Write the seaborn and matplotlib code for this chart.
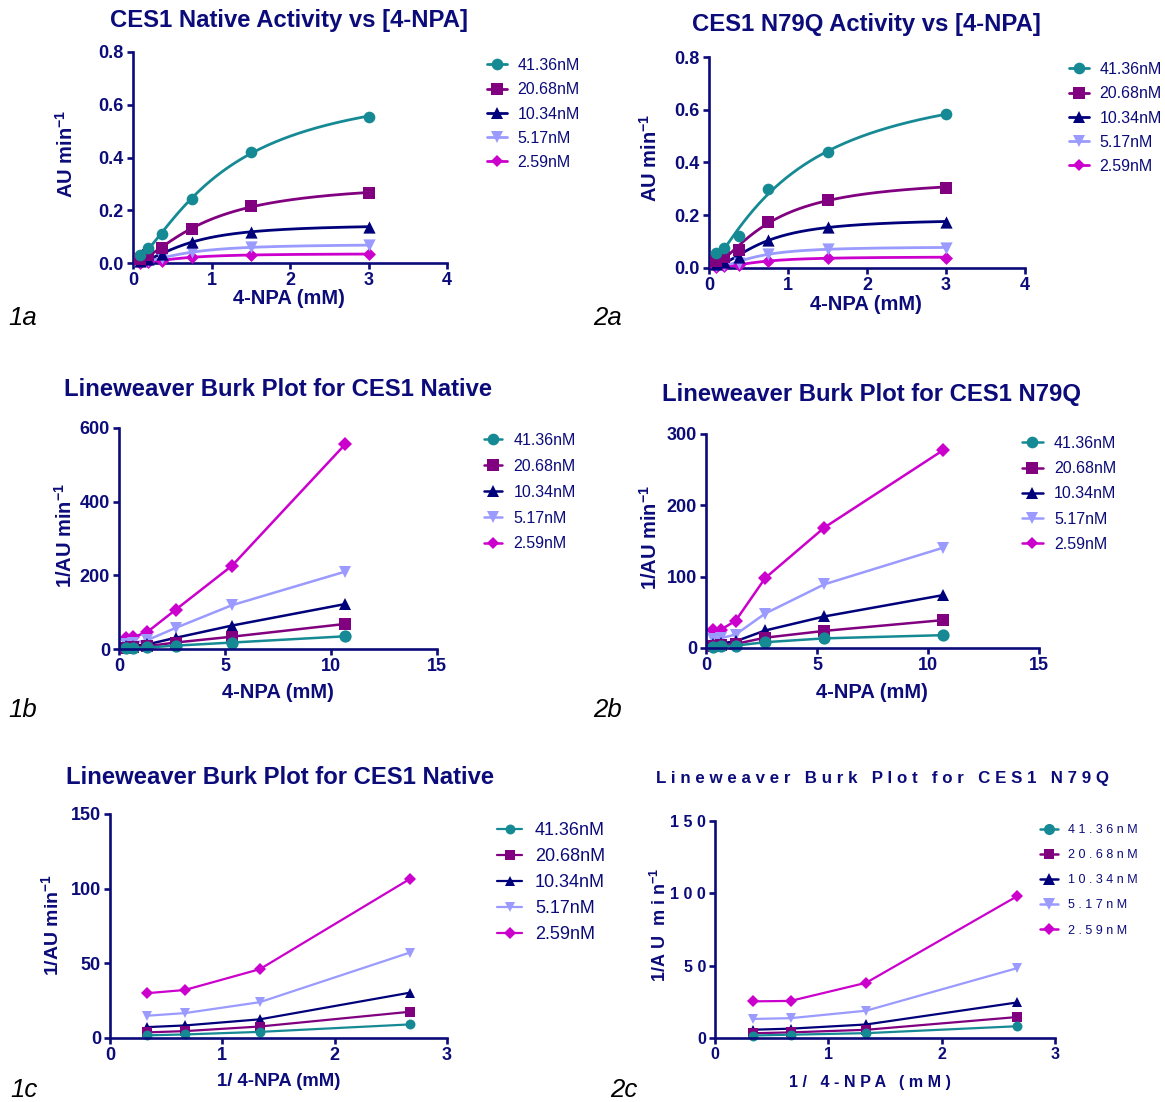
import numpy as np
import matplotlib
matplotlib.use("Agg")
import matplotlib.pyplot as plt
import seaborn as sns
from matplotlib.lines import Line2D

# ---------------------------------------------------------------- data
substrate_mM = [0.09375, 0.1875, 0.375, 0.75, 1.5, 3.0]
enzyme_nM = ["41.36nM", "20.68nM", "10.34nM", "5.17nM", "2.59nM"]

# initial rates (AU/min) of CES1 native, one list per enzyme concentration
native_41 = [0.0290, 0.0570, 0.1100, 0.2440, 0.4200, 0.5550]
native_20 = [0.0147, 0.0299, 0.0570, 0.1300, 0.2170, 0.2650]
native_10 = [0.0082, 0.0157, 0.0330, 0.0800, 0.1190, 0.1370]
native_5 = [0.00476, 0.0084, 0.0175, 0.0417, 0.0600, 0.0670]
native_2 = [0.0018, 0.00442, 0.0094, 0.0217, 0.0311, 0.0333]

# initial rates (AU/min) of CES1 N79Q
n79q_41 = [0.0556, 0.0740, 0.1230, 0.2980, 0.4400, 0.5820]
n79q_20 = [0.0256, 0.0417, 0.0690, 0.1760, 0.2580, 0.3050]
n79q_10 = [0.0135, 0.0226, 0.0407, 0.1070, 0.1550, 0.1750]
n79q_5 = [0.00712, 0.0112, 0.0207, 0.0530, 0.0730, 0.0760]
n79q_2 = [0.00361, 0.00592, 0.0102, 0.0262, 0.0390, 0.0395]

native_rates = dict(zip(enzyme_nM, [native_41, native_20, native_10, native_5, native_2]))
n79q_rates = dict(zip(enzyme_nM, [n79q_41, n79q_20, n79q_10, n79q_5, n79q_2]))

series_colors = ["#168a94", "#800080", "#00007a", "#9a9aff", "#cc00cc"]
series_markers = ["o", "s", "^", "v", "D"]
marker_sizes = [8.4, 8.0, 8.8, 8.8, 6.6]

NAVY = "#0b0b7a"
W, H = 1165, 1102

sns.set_theme(style="ticks")
plt.rcParams["font.family"] = ["Liberation Sans", "DejaVu Sans"]
plt.rcParams["mathtext.fontset"] = "custom"
plt.rcParams["mathtext.rm"] = "Liberation Sans"
plt.rcParams["mathtext.bf"] = "Liberation Sans:bold"

fig = plt.figure(figsize=(W / 100, H / 100), dpi=100)


def px_axes(x0, x1, ytop, ybot):
    return fig.add_axes([x0 / W, 1 - ybot / H, (x1 - x0) / W, (ybot - ytop) / H])


def ftext(x, y, s, **kw):
    fig.text(x / W, 1 - y / H, s, **kw)


def spaced(s):
    return " ".join(s)


def frame(ax, xlim, xticks, xlabels, ylim, yticks, ylabels, font):
    ax.set_xlim(xlim)
    ax.set_ylim(ylim)
    sns.despine(ax=ax)
    for side in ("left", "bottom"):
        ax.spines[side].set_color(NAVY)
        ax.spines[side].set_linewidth(1.9)
    ax.set_xticks(xticks, xlabels, **font)
    ax.set_yticks(yticks, ylabels, **font)
    ax.tick_params(direction="out", length=4.5, width=1.9, color=NAVY,
                   labelcolor=NAVY, pad=2)
    ax.set_xlabel("")
    ax.set_ylabel("")
    ax.patch.set_visible(False)


def hill_fit(s, v):
    s = np.asarray(s)[None, None, :]
    v = np.asarray(v)[None, None, :]
    K = np.geomspace(0.05, 20, 400)[:, None, None]
    h = np.linspace(0.5, 3.0, 126)[None, :, None]
    f = s ** h / (K ** h + s ** h)
    vmax = (f * v).sum(-1, keepdims=True) / (f * f).sum(-1, keepdims=True)
    err = ((v - vmax * f) ** 2).sum(-1)
    i, j = np.unravel_index(np.argmin(err), err.shape)
    return vmax[i, j, 0], K[i, 0, 0], h[0, j, 0]


def legend(ax, x, y, size, spacing, hlen, pad, lw, ms_scale=1.0, labels=None):
    handles = [Line2D([0], [0], color=c, lw=lw, marker=m, markersize=ms * ms_scale,
                      markeredgewidth=0)
               for c, m, ms in zip(series_colors, series_markers, marker_sizes)]
    leg = ax.legend(handles, labels or enzyme_nM, loc="upper left",
                    bbox_to_anchor=(x / W, 1 - y / H), bbox_transform=fig.transFigure,
                    frameon=False, borderpad=0, borderaxespad=0, handlelength=hlen,
                    handletextpad=pad, labelspacing=spacing,
                    prop=dict(size=size, family="Liberation Sans"))
    for t in leg.get_texts():
        t.set_color(NAVY)


def rate_panel(ax, rates):
    for label, color, marker, ms in reversed(list(zip(enzyme_nM, series_colors,
                                                      series_markers, marker_sizes))):
        v = rates[label]
        vmax, K, h = hill_fit(substrate_mM, v)
        xs = np.linspace(substrate_mM[0], substrate_mM[-1], 300)
        sns.lineplot(x=xs, y=vmax * xs ** h / (K ** h + xs ** h), ax=ax, color=color,
                     lw=2.0, clip_on=False, errorbar=None)
        sns.scatterplot(x=substrate_mM, y=v, ax=ax, color=color, marker=marker,
                        s=ms ** 2, linewidth=0, clip_on=False, zorder=3)


def lb_panel(ax, rates, xmax, ms_scale, lw):
    inv_s = 1.0 / np.asarray(substrate_mM)
    keep = inv_s <= xmax
    for label, color, marker, ms in reversed(list(zip(enzyme_nM, series_colors,
                                                      series_markers, marker_sizes))):
        inv_v = 1.0 / np.asarray(rates[label])
        sns.lineplot(x=inv_s[keep], y=inv_v[keep], ax=ax, color=color, lw=lw,
                     marker=marker, markersize=ms * ms_scale, markeredgewidth=0,
                     clip_on=False, errorbar=None)


BOLD = dict(fontfamily="Liberation Sans", fontweight="bold")
TICK = dict(fontsize=13, **BOLD)
TITLE = dict(fontsize=17.2, color=NAVY, ha="center", va="center", **BOLD)
XLAB = dict(fontsize=14.5, color=NAVY, ha="center", va="center", **BOLD)
YLAB = dict(fontsize=14.5, color=NAVY, ha="center", va="center", rotation=90, **BOLD)
TAG = dict(fontsize=18.5, color="black", style="italic", ha="left", va="center",
           fontfamily="Liberation Sans")
ylab_rate = r"AU min$^{\mathbf{-1}}$"
ylab_inv = r"1/AU min$^{\mathbf{-1}}$"

# ---------------------------------------------------------------- 1a
ax = px_axes(133, 447, 52, 263)
rate_panel(ax, native_rates)
frame(ax, (0, 4), [0, 1, 2, 3, 4], ["0", "1", "2", "3", "4"], (0, 0.8),
      [0, 0.2, 0.4, 0.6, 0.8], ["0.0", "0.2", "0.4", "0.6", "0.8"], TICK)
legend(ax, 487, 58, 11.5, 0.58, 1.25, 0.65, 2.0)
ftext(289, 21, "CES1 Native Activity vs [4-NPA]", **TITLE)
ftext(289, 299, "4-NPA (mM)", **XLAB)
ftext(66, 154, ylab_rate, **YLAB)
ftext(8, 318, "1a", **TAG)

# ---------------------------------------------------------------- 2a
ax = px_axes(709, 1025, 57, 268)
rate_panel(ax, n79q_rates)
frame(ax, (0, 4), [0, 1, 2, 3, 4], ["0", "1", "2", "3", "4"], (0, 0.8),
      [0, 0.2, 0.4, 0.6, 0.8], ["0.0", "0.2", "0.4", "0.6", "0.8"], TICK)
legend(ax, 1069, 62, 11.5, 0.58, 1.25, 0.65, 2.0)
ftext(866, 25, "CES1 N79Q Activity vs [4-NPA]", **TITLE)
ftext(866, 304, "4-NPA (mM)", **XLAB)
ftext(650, 158, ylab_rate, **YLAB)
ftext(593, 318, "2a", **TAG)

# ---------------------------------------------------------------- 1b
ax = px_axes(119, 437, 428, 649)
lb_panel(ax, native_rates, 20, 1.05, 1.8)
frame(ax, (0, 15), [0, 5, 10, 15], ["0", "5", "10", "15"], (0, 600),
      [0, 200, 400, 600], ["0", "200", "400", "600"], TICK)
legend(ax, 484, 433, 11.5, 0.68, 1.15, 0.7, 1.8)
ftext(278, 390, "Lineweaver Burk Plot for CES1 Native", **TITLE)
ftext(278, 693, "4-NPA (mM)", **XLAB)
ftext(65, 535, ylab_inv, **YLAB)
ftext(8, 710, "1b", **TAG)

# ---------------------------------------------------------------- 2b
ax = px_axes(706, 1039, 434, 648)
lb_panel(ax, n79q_rates, 20, 1.05, 1.8)
frame(ax, (0, 15), [0, 5, 10, 15], ["0", "5", "10", "15"], (0, 300),
      [0, 100, 200, 300], ["0", "100", "200", "300"], TICK)
legend(ax, 1022, 436, 11.5, 0.64, 1.3, 0.7, 1.8)
ftext(872, 394, "Lineweaver Burk Plot for CES1 N79Q", **TITLE)
ftext(872, 693, "4-NPA (mM)", **XLAB)
ftext(650, 537, ylab_inv, **YLAB)
ftext(593, 710, "2b", **TAG)

# ---------------------------------------------------------------- 1c
ax = px_axes(110, 447, 814, 1038)
lb_panel(ax, native_rates, 3, 0.85, 1.6)
frame(ax, (0, 3), [0, 1, 2, 3], ["0", "1", "2", "3"], (0, 150),
      [0, 50, 100, 150], ["0", "50", "100", "150"], dict(fontsize=13, **BOLD))
legend(ax, 497, 822, 13, 0.5, 1.4, 0.7, 1.6, ms_scale=0.85)
ftext(280, 777, "Lineweaver Burk Plot for CES1 Native", fontsize=17.2, color=NAVY,
      ha="center", va="center", **BOLD)
ftext(279, 1081, "1/ 4-NPA (mM)", fontsize=13.3, color=NAVY, ha="center",
      va="center", **BOLD)
ftext(52, 925, ylab_inv, fontsize=14, color=NAVY, ha="center", va="center",
      rotation=90, **BOLD)
ftext(10, 1090, "1c", **TAG)

# ---------------------------------------------------------------- 2c
ax = px_axes(715, 1055, 821, 1038)
lb_panel(ax, n79q_rates, 3, 0.85, 1.6)
frame(ax, (0, 3), [0, 1, 2, 3], ["0", "1", "2", "3"], (0, 150),
      [0, 50, 100, 150], [spaced(t) for t in ["0", "50", "100", "150"]],
      dict(fontsize=11.5, **BOLD))
legend(ax, 1040, 824, 9, 1.05, 1.45, 0.75, 1.8, ms_scale=0.95,
       labels=[spaced(t) for t in enzyme_nM])
ftext(882, 779, spaced("Lineweaver Burk Plot for CES1 N79Q"), fontsize=12.2,
      color=NAVY, ha="center", va="center", **BOLD)
ftext(870, 1083, spaced("1/ 4-NPA (mM)"), fontsize=11.6, color=NAVY, ha="center",
      va="center", **BOLD)
ftext(660, 925, r"1/A U  m i n$^{\mathbf{-1}}$", fontsize=13, color=NAVY,
      ha="center", va="center", rotation=90, **BOLD)
ftext(610, 1090, "2c", **TAG)

fig.savefig("out.png", dpi=100)
